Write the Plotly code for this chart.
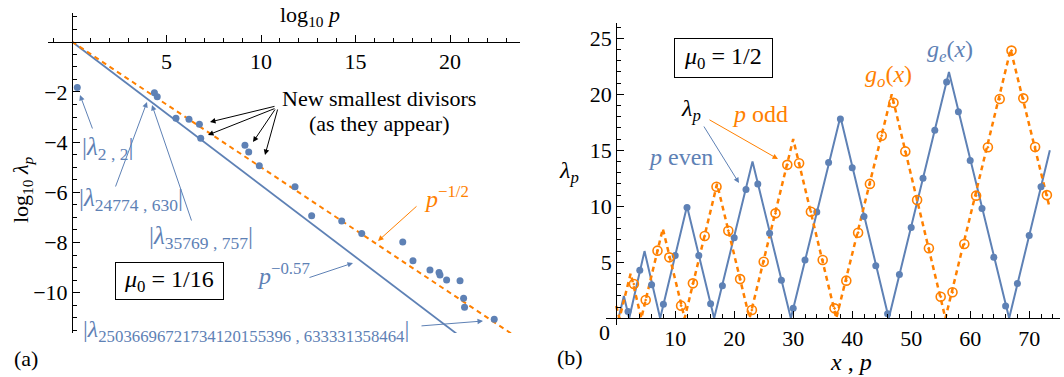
import plotly.graph_objects as go
import numpy as np

W, H = 1064, 377
BLUE = "#5E81B5"
ORANGE = "#FF8000"
FONT = "Liberation Serif"

# ---------------- Panel (a): log10 lambda_p vs log10 p ----------------
log_p = [0.28, 4.36, 4.51, 5.50, 6.19, 6.74, 6.81, 9.15, 9.35, 9.91, 11.80, 12.68,
         14.27, 15.33, 17.50, 18.04, 18.94, 19.42, 19.47, 19.82, 20.53, 20.72, 20.77, 22.34]
log_lam = [-1.82, -2.03, -2.19, -3.05, -3.09, -3.29, -3.85, -4.13, -4.39, -4.94, -5.78, -6.93,
           -7.14, -7.64, -7.98, -8.73, -9.10, -9.20, -9.29, -9.49, -9.52, -10.22, -10.58, -11.06]
half_x = [0.0, 23.35]      # p^(-1/2) guide (endpoints)
half_y = [0.0, -11.68]
fit_x = [0.0, 21.06]       # p^(-0.57) guide
fit_y = [0.0, -12.04]
a_xticks = [5, 10, 15, 20]
a_yticks = [-2, -4, -6, -8, -10]

# ---------------- Panel (b): lambda_p vs p, mu0 = 1/2 ----------------
p_even = [2, 4, 6, 8, 10, 12, 14, 16, 18, 20, 22, 24, 26, 28, 30, 32, 34, 36,
          38, 40, 42, 44, 46, 48, 50, 52, 54, 56, 58, 60, 62, 64, 66, 68, 70, 72]
lam_even = [0.6, 4.3, 3.0, 1.25, 5.6, 9.9, 5.6, 1.3, 2.9, 7.2, 11.5, 12.0, 7.6, 3.4, 0.9, 5.2, 9.5, 13.9,
            17.8, 13.45, 9.1, 4.7, 0.4, 3.9, 8.1, 12.5, 16.8, 21.1, 18.45, 14.1, 9.8, 5.45, 1.1, 3.1, 7.4, 11.75]
p_odd = [3, 5, 7, 9, 11, 13, 15, 17, 19, 21, 23, 25, 27, 29, 31, 33, 35, 37,
         39, 41, 43, 45, 47, 49, 51, 53, 55, 57, 59, 61, 63, 65, 67, 69, 71, 73]
lam_odd = [3.06, 1.63, 6.04, 5.44, 1.13, 3.12, 7.35, 11.75, 7.82, 3.5, 0.74, 5.05, 9.37, 13.7, 13.84, 9.52, 5.2, 0.89,
           3.36, 7.64, 12.0, 16.3, 19.25, 14.9, 10.56, 6.25, 1.93, 2.32, 6.63, 10.95, 15.27, 19.58, 23.9, 19.64, 15.3, 11.0]
ge_x = [0.4, 1.3, 2.2, 4.8, 7.45, 12.0, 16.6, 23.1, 29.6, 38.0, 46.2, 56.4, 66.6, 73.5]
ge_y = [0, 2, 0, 6, 0, 10, 0, 14, 0, 18, 0, 22, 0, 15]
go_x = [0.0, 0.55, 2.45, 4.25, 7.9, 11.6, 17.1, 22.6, 30.0, 37.3, 46.7, 55.8, 66.85, 73.5]
go_y = [1.1, 0, 4, 0, 8, 0, 12, 0, 16, 0, 20, 0, 24, 9.8]
b_xticks = [10, 20, 30, 40, 50, 60, 70]
b_yticks = [5, 10, 15, 20, 25]

fig = go.Figure()
fig.add_trace(go.Scatter(x=fit_x, y=fit_y, mode="lines", line=dict(color=BLUE, width=1.8),
                         xaxis="x", yaxis="y", hoverinfo="skip"))
fig.add_trace(go.Scatter(x=half_x, y=half_y, mode="lines", line=dict(color=ORANGE, width=2, dash="5px,4px"),
                         xaxis="x", yaxis="y", hoverinfo="skip"))
fig.add_trace(go.Scatter(x=log_p, y=log_lam, mode="markers", marker=dict(color=BLUE, size=7),
                         xaxis="x", yaxis="y"))

fig.add_trace(go.Scatter(x=ge_x, y=ge_y, mode="lines", line=dict(color=BLUE, width=2),
                         xaxis="x2", yaxis="y2", hoverinfo="skip"))
fig.add_trace(go.Scatter(x=go_x, y=go_y, mode="lines", line=dict(color=ORANGE, width=2.5, dash="5px,4px"),
                         xaxis="x2", yaxis="y2", hoverinfo="skip"))
fig.add_trace(go.Scatter(x=p_even, y=lam_even, mode="markers", marker=dict(color=BLUE, size=7),
                         xaxis="x2", yaxis="y2"))
fig.add_trace(go.Scatter(x=p_odd, y=lam_odd, mode="markers",
                         marker=dict(color=ORANGE, size=9, symbol="circle-open-dot", line=dict(width=1.6, color=ORANGE)),
                         xaxis="x2", yaxis="y2"))

def fx(px):
    return px / W

def fy(py):
    return 1 - py / H

tickfont = dict(family=FONT, size=22, color="black")
axis_common = dict(showline=True, linecolor="black", linewidth=1, ticks="inside", ticklen=7,
                   tickcolor="black", tickwidth=1, showgrid=False, zeroline=False, tickfont=tickfont)

# panel a geometry (pixels)
ax0, ax_scale = 72.0, 18.9
ay0, ay_scale = 41.7, 25.1
a_xl, a_xr = 48, 520
a_yt, a_yb = 13, 333
# panel b geometry
bx0, bx_scale = 616.2, 5.9
by0, by_scale = 318.3, 11.2
b_xl, b_xr = 606, 1060
b_yt, b_yb = 23.3, 325

def neg(v):
    return ("\u2212" + str(-v)) if v < 0 else str(v)

fig.update_layout(
    width=W, height=H, margin=dict(l=0, r=0, t=0, b=0),
    paper_bgcolor="white", plot_bgcolor="white", showlegend=False,
    font=dict(family=FONT),
    xaxis=dict(axis_common, domain=[fx(a_xl), fx(a_xr)],
               range=[(a_xl - ax0) / ax_scale, (a_xr - ax0) / ax_scale],
               anchor="free", position=fy(ay0), side="bottom",
               tickmode="array", tickvals=a_xticks, ticktext=[str(v) for v in a_xticks],
               minor=dict(tickmode="array", tickvals=[v for v in range(-1, 24) if v % 5 != 0],
                          ticks="inside", ticklen=4, tickcolor="black")),
    yaxis=dict(axis_common, domain=[fy(a_yb), fy(a_yt)],
               range=[-(a_yb - ay0) / ay_scale, (ay0 - a_yt) / ay_scale],
               anchor="free", position=fx(ax0), side="left",
               tickmode="array", tickvals=a_yticks, ticktext=[neg(v) for v in a_yticks],
               minor=dict(tickmode="array", tickvals=[v / 2 for v in range(-23, 3) if v % 4 != 0],
                          ticks="inside", ticklen=4, tickcolor="black")),
    xaxis2=dict(axis_common, domain=[fx(b_xl), fx(b_xr)],
                range=[(b_xl - bx0) / bx_scale, (b_xr - bx0) / bx_scale],
                anchor="free", position=fy(by0), side="bottom",
                tickmode="array", tickvals=b_xticks, ticktext=[str(v) for v in b_xticks],
                minor=dict(tickmode="array", tickvals=[v for v in range(2, 76, 2) if v % 10 != 0],
                           ticks="inside", ticklen=4, tickcolor="black")),
    yaxis2=dict(axis_common, domain=[fy(b_yb), fy(b_yt)],
                range=[-(b_yb - by0) / by_scale, (by0 - b_yt) / by_scale],
                anchor="free", position=fx(bx0), side="left",
                tickmode="array", tickvals=b_yticks, ticktext=[str(v) for v in b_yticks],
                minor=dict(tickmode="array", tickvals=[v for v in range(1, 27) if v % 5 != 0],
                           ticks="inside", ticklen=4, tickcolor="black")),
)

ann = []

def text(px, py, s, color="black", size=22, **kw):
    ann.append(dict(x=fx(px), y=fy(py), xref="paper", yref="paper", text=s, showarrow=False,
                    font=dict(family=FONT, size=size, color=color), xanchor="center", yanchor="middle", **kw))

def arrow(tx, ty, sx, sy, color):
    ann.append(dict(x=fx(tx), y=fy(ty), xref="paper", yref="paper", text="", showarrow=True,
                    ax=sx - tx, ay=sy - ty, arrowhead=2, arrowsize=1.1, arrowwidth=1, arrowcolor=color))

NB = "\u00a0"
# panel a texts
text(310, 16, "log<sub>10</sub> <i>p</i>")
text(22, 190, "log<sub>10</sub> <i>λ<sub>p</sub></i>", textangle=-90)
text(379, 99, "New smallest divisors")
text(379, 124, "(as they appear)")
text(107, 148, "|<i>λ</i><sub>2 , 2</sub>|", color=BLUE, size=25)
text(131, 199, "|<i>λ</i><sub>24774 , 630</sub>|", color=BLUE, size=25)
text(201, 237, "|<i>λ</i><sub>35769 , 757</sub>|", color=BLUE, size=25)
text(246, 331, "|<i>λ</i><sub>25036696721734120155396 , 633331358464</sub>|", color=BLUE, size=24)
text(169, 281, NB + "<i>μ</i><sub>0</sub> = 1/16" + NB, size=24,
     bordercolor="black", borderwidth=1, borderpad=3, bgcolor="white")
text(283, 274, "<i>p</i><sup>−0.57</sup>", color=BLUE, size=24)
text(446, 197, "<i>p</i><sup>−1/2</sup>", color=ORANGE, size=24)
text(26, 358, "(a)")

arrow(80, 95, 93, 130, BLUE)
arrow(147, 102, 115, 188, BLUE)
arrow(152, 105, 192, 222, BLUE)
arrow(483, 321, 420, 326, BLUE)
arrow(353, 263, 308, 278, BLUE)
arrow(378, 241, 418, 205, ORANGE)
arrow(210, 122, 276, 106, "black")
arrow(208, 135, 276, 108, "black")
arrow(253, 142, 276, 108, "black")
arrow(265, 155, 278, 108, "black")

# panel b texts
text(723, 58, NB + "<i>μ</i><sub>0</sub> = 1/2" + NB, size=24,
     bordercolor="black", borderwidth=1, borderpad=4, bgcolor="white")
text(691, 110, "<i>λ<sub>p</sub></i>", size=24)
text(680, 157, "<i>p</i> even", color=BLUE, size=24)
text(760, 114, "<i>p</i> odd", color=ORANGE, size=24)
text(569, 172, "<i>λ<sub>p</sub></i>", size=24)
text(851, 362, "<i>x</i> , <i>p</i>", size=24)
text(888, 76, "<i>g<sub>o</sub></i>(<i>x</i>)", color=ORANGE, size=24)
text(950, 51, "<i>g<sub>e</sub></i>(<i>x</i>)", color=BLUE, size=24)
text(604, 332, "0")
text(570, 357, "(b)")

arrow(739, 183, 703, 125, BLUE)
arrow(778, 159, 708, 119, ORANGE)

fig.update_layout(annotations=ann)
fig.write_html("out.html")
